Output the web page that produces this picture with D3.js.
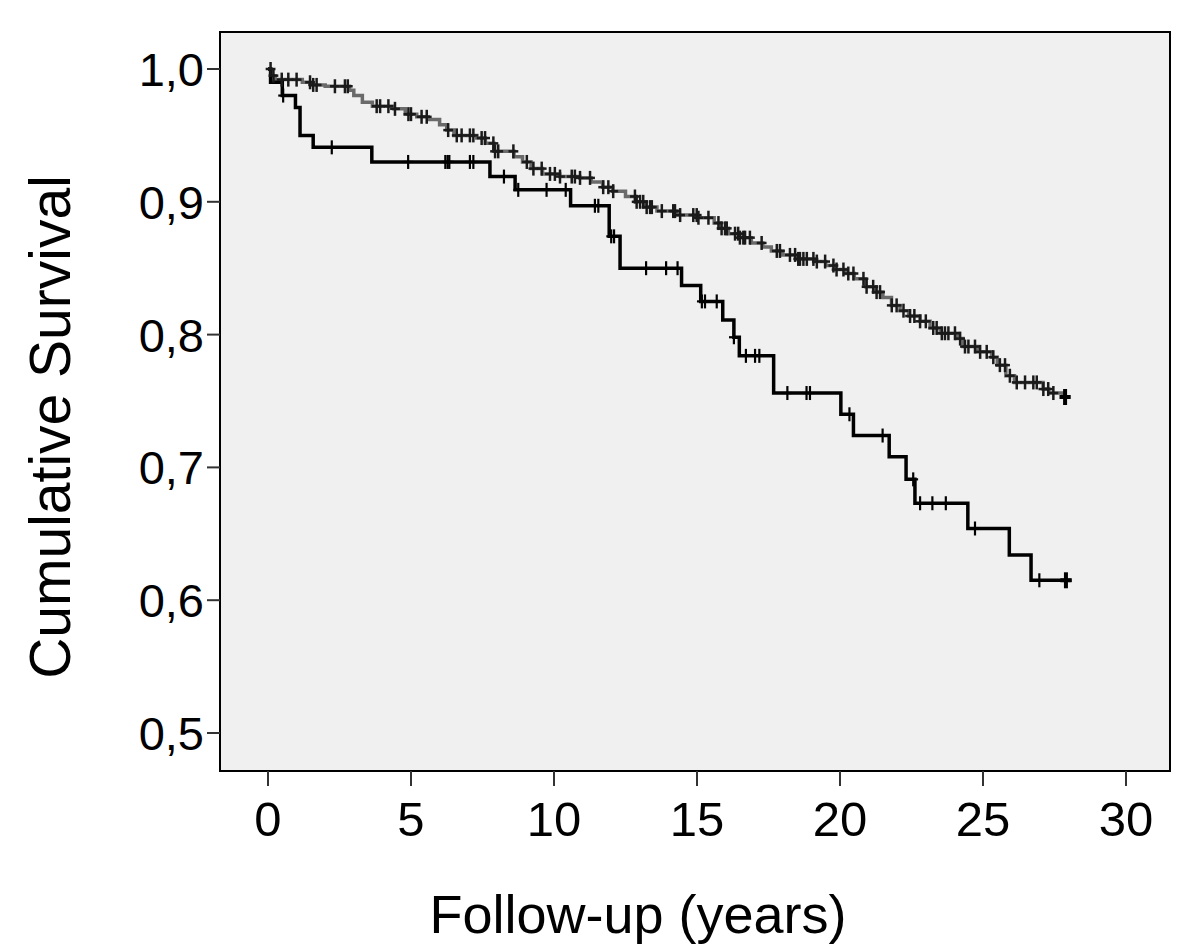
<!DOCTYPE html>
<html>
<head>
<meta charset="utf-8">
<script src="https://cdn.jsdelivr.net/npm/d3@7"></script>
<style>
  body { margin: 0; background: #fff; }
  text { font-family: "Liberation Sans", Arial, sans-serif; fill: #000; }
</style>
</head>
<body>
<svg id="chart" width="1200" height="952"></svg>
<script>
// Step points (time in years, cumulative survival)
var lowerTimes = [0, 0.09, 0.5, 0.96, 1.12, 1.58, 3.63, 7.76, 8.64, 10.58, 11.93, 12.31, 14.46, 15.13, 15.9, 16.29, 16.48, 17.68, 20.03, 20.47, 21.72, 22.31, 22.62, 24.47, 25.92, 26.68];
var lowerSurv  = [1.0, 0.990, 0.980, 0.971, 0.950, 0.941, 0.930, 0.919, 0.909, 0.897, 0.874, 0.850, 0.837, 0.825, 0.811, 0.798, 0.784, 0.756, 0.740, 0.724, 0.708, 0.691, 0.673, 0.654, 0.634, 0.615];
var lowerEnd = 28.1;
var lowerCensor = [0.53, 2.23, 4.9, 6.2, 6.28, 6.34, 7.06, 7.18, 8.25, 8.75, 9.74, 10.41, 11.43, 11.55, 12.0, 12.1, 13.22, 13.92, 14.32, 15.17, 15.28, 15.69, 16.29, 16.71, 17.03, 17.18, 18.16, 18.83, 18.95, 20.33, 21.49, 22.56, 22.8, 23.23, 23.7, 24.72, 26.97];
var lowerLast = 27.9;

var upperTimes = [0, 0.1, 0.25, 1.2, 1.5, 2.0, 2.85, 3.0, 3.3, 3.65, 4.4, 4.8, 5.2, 5.6, 6.0, 6.25, 6.5, 7.3, 7.6, 7.9, 8.6, 8.9, 9.2, 9.6, 10.2, 10.9, 11.3, 11.7, 12.05, 12.5, 12.85, 13.2, 13.6, 14.3, 15.0, 15.6, 15.8, 16.1, 16.5, 16.9, 17.3, 17.6, 18.0, 18.5, 19.1, 19.5, 19.8, 20.2, 20.5, 20.9, 21.2, 21.5, 21.8, 22.1, 22.4, 22.8, 23.15, 23.5, 24.1, 24.3, 24.8, 25.3, 25.5, 25.8, 26.1, 27.1, 27.3, 27.8];
var upperSurv  = [1.0, 0.995, 0.992, 0.990, 0.988, 0.987, 0.984, 0.980, 0.975, 0.972, 0.970, 0.966, 0.964, 0.962, 0.958, 0.954, 0.950, 0.948, 0.944, 0.938, 0.934, 0.930, 0.925, 0.921, 0.919, 0.918, 0.915, 0.911, 0.908, 0.904, 0.900, 0.896, 0.893, 0.890, 0.888, 0.884, 0.880, 0.876, 0.873, 0.869, 0.866, 0.863, 0.860, 0.857, 0.855, 0.852, 0.849, 0.846, 0.842, 0.836, 0.832, 0.828, 0.822, 0.818, 0.814, 0.810, 0.805, 0.801, 0.797, 0.791, 0.787, 0.783, 0.777, 0.769, 0.764, 0.759, 0.756, 0.753];
var upperEnd = 28.05;
var upperCensor = [0.09, 0.19, 0.48, 0.71, 1.0, 1.47, 1.58, 1.7, 2.34, 2.69, 2.79, 3.8, 3.92, 4.21, 4.44, 4.91, 5.0, 5.37, 5.55, 6.3, 6.6, 6.77, 7.06, 7.18, 7.47, 7.59, 7.88, 7.94, 8.05, 8.58, 9.05, 9.28, 9.57, 9.86, 10.03, 10.21, 10.62, 10.73, 10.91, 11.26, 11.72, 11.9, 12.07, 12.83, 12.89, 13.01, 13.12, 13.24, 13.36, 13.42, 13.77, 14.17, 14.23, 14.41, 14.87, 14.99, 15.05, 15.4, 15.75, 15.86, 15.98, 16.04, 16.33, 16.44, 16.5, 16.62, 16.68, 16.85, 17.26, 17.79, 17.9, 18.25, 18.43, 18.54, 18.6, 18.72, 18.84, 19.07, 19.19, 19.48, 19.77, 19.88, 20.12, 20.29, 20.47, 20.82, 20.93, 21.16, 21.28, 21.4, 21.81, 21.98, 22.22, 22.45, 22.6, 22.8, 23.0, 23.26, 23.38, 23.56, 23.67, 23.79, 24.02, 24.2, 24.37, 24.49, 24.72, 24.9, 25.13, 25.36, 25.59, 25.77, 25.94, 26.18, 26.47, 26.76, 26.88, 27.11, 27.28, 27.46];
var upperLast = 27.87;

var xTicks = [0, 5, 10, 15, 20, 25, 30];
var yTicks = [0.5, 0.6, 0.7, 0.8, 0.9, 1.0];

var svg = d3.select("#chart");
var frame = { left: 220, right: 1170, top: 32, bottom: 771 };

var xScale = d3.scaleLinear().domain([0, 30]).range([268, 1126]);
var yScale = d3.scaleLinear().domain([0.5, 1.0]).range([733, 69]);

// build step arrays
var makeSteps = function(times, surv, end) {
  var pts = times.map(function(t, i) { return { t: t, s: surv[i] }; });
  pts.push({ t: end, s: surv[surv.length - 1] });
  return pts;
};
var survAt = function(times, surv, t) {
  var s = surv[0];
  for (var i = 0; i < times.length; i++) {
    if (times[i] <= t) s = surv[i];
  }
  return s;
};

var lowerSteps = makeSteps(lowerTimes, lowerSurv, lowerEnd);
var upperSteps = makeSteps(upperTimes, upperSurv, upperEnd);

// plot background
svg.append("rect")
   .attr("x", frame.left)
   .attr("y", frame.top)
   .attr("width", frame.right - frame.left)
   .attr("height", frame.bottom - frame.top)
   .style("fill", "#f0f0f0")
   .style("stroke", "#000")
   .style("stroke-width", 2);

// y ticks + labels
svg.selectAll(".yTick")
   .data(yTicks)
   .enter()
   .append("line")
   .attr("class", "yTick")
   .attr("x1", frame.left - 13)
   .attr("x2", frame.left)
   .attr("y1", function(d) { return yScale(d); })
   .attr("y2", function(d) { return yScale(d); })
   .style("stroke", "#333")
   .style("stroke-width", 2);
svg.selectAll(".yLabel")
   .data(yTicks)
   .enter()
   .append("text")
   .attr("class", "yLabel")
   .attr("x", 204)
   .attr("y", function(d) { return yScale(d) + 17; })
   .attr("text-anchor", "end")
   .style("font-size", "47px")
   .text(function(d) { return d.toFixed(1).replace(".", ","); });

// x ticks + labels
svg.selectAll(".xTick")
   .data(xTicks)
   .enter()
   .append("line")
   .attr("class", "xTick")
   .attr("x1", function(d) { return xScale(d); })
   .attr("x2", function(d) { return xScale(d); })
   .attr("y1", frame.bottom)
   .attr("y2", frame.bottom + 15)
   .style("stroke", "#333")
   .style("stroke-width", 2);
svg.selectAll(".xLabel")
   .data(xTicks)
   .enter()
   .append("text")
   .attr("class", "xLabel")
   .attr("x", function(d) { return xScale(d); })
   .attr("y", 836)
   .attr("text-anchor", "middle")
   .style("font-size", "49px")
   .text(function(d) { return d; });

// axis titles
svg.append("text")
   .attr("x", 638)
   .attr("y", 933)
   .attr("text-anchor", "middle")
   .style("font-size", "54px")
   .text("Follow-up (years)");
svg.append("text")
   .attr("transform", "translate(70,427) rotate(-90)")
   .attr("text-anchor", "middle")
   .style("font-size", "57px")
   .text("Cumulative Survival");

var line = d3.line()
             .x(function(d) { return xScale(d.t); })
             .y(function(d) { return yScale(d.s); })
             .curve(d3.curveStepAfter);

// upper (grey) curve
svg.append("path")
   .datum(upperSteps)
   .attr("d", line)
   .style("fill", "none")
   .style("stroke", "#6a6a6a")
   .style("stroke-width", 3.5);

// lower (black) curve
svg.append("path")
   .datum(lowerSteps)
   .attr("d", line)
   .style("fill", "none")
   .style("stroke", "#000")
   .style("stroke-width", 3.5);

// censor marks
var drawCensor = function(cls, times, stepT, stepS, color, width, half) {
  var g = svg.selectAll("." + cls)
             .data(times)
             .enter()
             .append("g")
             .attr("class", cls)
             .attr("transform", function(d) {
               return "translate(" + xScale(d) + "," + yScale(survAt(stepT, stepS, d)) + ")";
             });
  g.append("line")
   .attr("x1", 0).attr("x2", 0)
   .attr("y1", -half).attr("y2", half)
   .style("stroke", color)
   .style("stroke-width", width);
  g.append("line")
   .attr("x1", -half * 0.7).attr("x2", half * 0.7)
   .attr("y1", 0).attr("y2", 0)
   .style("stroke", color)
   .style("stroke-width", width);
};
drawCensor("upperC", upperCensor, upperTimes, upperSurv, "#1a1a1a", 2.5, 7);
drawCensor("lowerC", lowerCensor, lowerTimes, lowerSurv, "#000", 2.2, 7);
drawCensor("upperL", [upperLast], upperTimes, upperSurv, "#000", 4, 8);
drawCensor("lowerL", [lowerLast], lowerTimes, lowerSurv, "#000", 4, 8);
</script>
</body>
</html>
